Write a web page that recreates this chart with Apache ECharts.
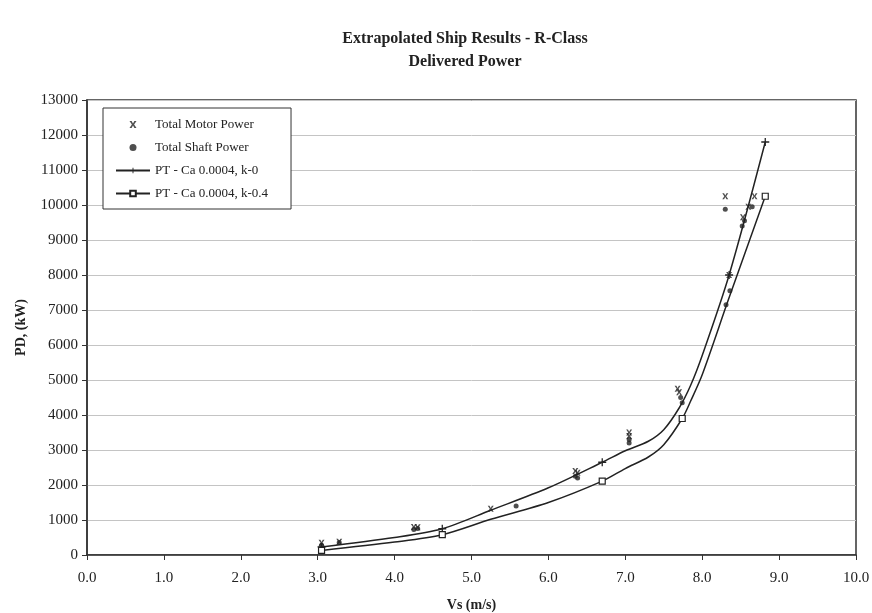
<!DOCTYPE html>
<html>
<head>
<meta charset="utf-8">
<script src="https://cdn.jsdelivr.net/npm/echarts@6/dist/echarts.min.js"></script>
<style>html,body{margin:0;padding:0;background:#fff;}#c{width:872px;height:613px;}</style>
</head>
<body>
<div id="c"></div>
<script>
// ---- data ----
const titleLines = ['Extrapolated Ship Results - R-Class', 'Delivered Power'];
const xTicks = [0,1,2,3,4,5,6,7,8,9,10];
const yTicks = [0,1000,2000,3000,4000,5000,6000,7000,8000,9000,10000,11000,12000,13000];

// Total Motor Power (kW) vs Vs (m/s)
const motorV = [3.05, 3.28, 4.25, 4.30, 5.25, 6.35, 6.38, 7.05, 7.05, 7.68, 7.70, 8.30, 8.35, 8.53, 8.60, 8.68];
const motorP = [350, 380, 800, 790, 1320, 2400, 2350, 3500, 3400, 4750, 4650, 10250, 8000, 9650, 9950, 10250];

// Total Shaft Power (kW)
const shaftV = [3.05, 3.28, 4.25, 4.30, 5.58, 6.35, 6.38, 7.05, 7.05, 7.72, 7.74, 8.30, 8.31, 8.36, 8.52, 8.55, 8.65];
const shaftP = [280, 360, 730, 760, 1400, 2250, 2200, 3300, 3200, 4500, 4350, 9880, 7150, 7550, 9400, 9550, 9950];

// PT - Ca 0.0004, k-0 (curve) ; marked = point carries a marker in the reference
const ptK0V = [3.05, 4.00, 4.62, 5.25, 6.00, 6.70, 7.00, 7.30, 7.50, 7.70, 7.85, 8.00, 8.35, 8.82];
const ptK0P = [230, 500, 750, 1280, 1920, 2650, 2980, 3250, 3580, 4200, 4850, 5700, 8000, 11800];
const ptK0Marked = [1, 0, 1, 0, 0, 1, 0, 0, 0, 0, 0, 0, 1, 1];

// PT - Ca 0.0004, k-0.4 (curve)
const ptK4V = [3.05, 4.00, 4.62, 5.25, 6.00, 6.70, 7.00, 7.30, 7.50, 7.74, 7.85, 8.00, 8.34, 8.82];
const ptK4P = [130, 370, 580, 1020, 1500, 2110, 2470, 2800, 3150, 3900, 4400, 5150, 7290, 10250];
const ptK4Marked = [1, 0, 1, 0, 0, 1, 0, 0, 0, 1, 0, 0, 0, 1];

// ---- build ----
const pairs = (xs, ys) => xs.map((x, i) => [x, ys[i]]);
const linePts = (xs, ys, m) => xs.map((x, i) => m[i] ? [x, ys[i]] : { value: [x, ys[i]], symbol: 'none' });

const FONT = '"Liberation Serif", "DejaVu Serif", serif';
const crossPath = 'path://M0,0L3,0L5,3.6L7,0L10,0L6.6,5L10,10L7,10L5,6.4L3,10L0,10L3.4,5Z';
const plusPath = 'path://M4.2,0H5.8V4.2H10V5.8H5.8V10H4.2V5.8H0V4.2H4.2Z';

const chart = echarts.init(document.getElementById('c'), null, { renderer: 'canvas' });
chart.setOption({
  animation: false,
  backgroundColor: '#fff',
  title: {
    text: titleLines.join('\n'),
    left: 460,
    top: 22,
    textAlign: 'center',
    textStyle: { fontFamily: FONT, fontSize: 16, fontWeight: 'bold', color: '#222', lineHeight: 23 }
  },
  grid: { left: 87, right: 16, top: 100, bottom: 58, show: true, borderColor: '#333', borderWidth: 1.5, backgroundColor: 'transparent', containLabel: false, outerBoundsMode: 'none' },
  legend: {
    orient: 'vertical',
    left: 103, top: 108,
    padding: [10, 23, 9, 12],
    itemGap: 10,
    itemWidth: 34, itemHeight: 7,
    backgroundColor: '#fff',
    borderColor: '#333', borderWidth: 1,
    textStyle: { fontFamily: FONT, fontSize: 13, color: '#222' },
    data: ['Total Motor Power', 'Total Shaft Power', 'PT - Ca 0.0004, k-0', 'PT - Ca 0.0004, k-0.4']
  },
  xAxis: {
    type: 'value', min: 0, max: 10, interval: 1,
    name: 'Vs (m/s)', nameLocation: 'middle', nameGap: 43,
    nameTextStyle: { fontFamily: FONT, fontSize: 14, fontWeight: 'bold', color: '#222' },
    axisLine: { show: true, lineStyle: { color: '#333', width: 1.5 } },
    axisTick: { show: true, inside: false, length: 5, lineStyle: { color: '#333' } },
    axisLabel: { fontFamily: FONT, fontSize: 15, color: '#222', margin: 16, formatter: v => xTicks.includes(v) ? v.toFixed(1) : '' },
    splitLine: { show: false }
  },
  yAxis: {
    type: 'value', min: 0, max: 13000, interval: 1000,
    name: 'PD, (kW)', nameLocation: 'middle', nameGap: 59, nameRotate: 90,
    nameTextStyle: { fontFamily: FONT, fontSize: 14, fontWeight: 'bold', color: '#222' },
    axisLine: { show: true, lineStyle: { color: '#333', width: 1.5 } },
    axisTick: { show: true, inside: false, length: 5, lineStyle: { color: '#333' } },
    axisLabel: { fontFamily: FONT, fontSize: 15, color: '#222', margin: 9, formatter: v => yTicks.includes(v) ? String(v) : '' },
    splitLine: { show: true, lineStyle: { color: '#c4c4c4', width: 1 } }
  },
  series: [
    {
      name: 'Total Motor Power', type: 'scatter',
      symbol: crossPath, symbolSize: 6,
      itemStyle: { color: '#222' },
      data: pairs(motorV, motorP), z: 4
    },
    {
      name: 'Total Shaft Power', type: 'scatter',
      symbol: 'circle', symbolSize: 5,
      itemStyle: { color: '#222' },
      data: pairs(shaftV, shaftP), z: 4
    },
    {
      name: 'PT - Ca 0.0004, k-0', type: 'line', smooth: 0.3,
      symbol: plusPath, symbolSize: 8, showAllSymbol: true,
      lineStyle: { color: '#222', width: 1.5 },
      itemStyle: { color: '#222' },
      data: linePts(ptK0V, ptK0P, ptK0Marked), z: 3
    },
    {
      name: 'PT - Ca 0.0004, k-0.4', type: 'line', smooth: 0.3,
      symbol: 'rect', symbolSize: 6, showAllSymbol: true,
      lineStyle: { color: '#222', width: 1.5 },
      itemStyle: { color: '#fff', borderColor: '#222', borderWidth: 1.2 },
      data: linePts(ptK4V, ptK4P, ptK4Marked), z: 3
    }
  ]
});
</script>
</body>
</html>
